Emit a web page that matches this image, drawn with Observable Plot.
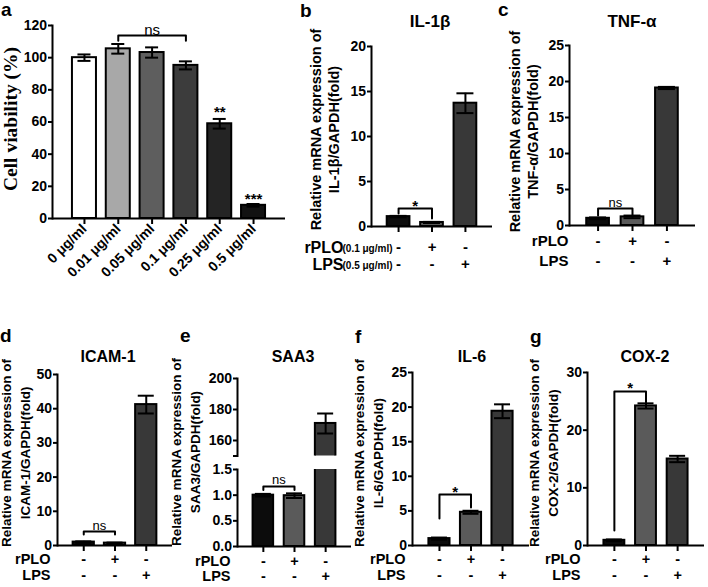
<!DOCTYPE html>
<html><head><meta charset="utf-8">
<script src="https://cdn.jsdelivr.net/npm/d3@7"></script>
<script src="https://cdn.jsdelivr.net/npm/@observablehq/plot@0.6"></script>
<style>
body{margin:0;background:#fff;}
#fig{position:relative;width:708px;height:587px;overflow:hidden;background:#fff;font-family:"Liberation Sans",Arial,sans-serif;color:#000;}
#fig svg{position:absolute;}
.lbl{position:absolute;font-weight:bold;white-space:nowrap;}
</style></head>
<body><div id="fig"></div>
<script>
// ---------------- DATA ----------------
const doseLabels = ["0 μg/ml","0.01 μg/ml","0.05 μg/ml","0.1 μg/ml","0.25 μg/ml","0.5 μg/ml"];
const viabilityMean = [100, 105.5, 103.2, 95.2, 58.9, 8.2];
const viabilityErr  = [2, 3, 3.2, 2.5, 3, 0.8];
const viabilityStars = ["", "", "", "", "**", "***"];
const viabilityStarY = [null, null, null, null, 66, 12];
const viabilityColors = ["#ffffff","#a8a8a8","#5e5e5e","#3c3c3c","#242424","#121212"];
const viabilityTicks = [0,20,40,60,80,100,120];

const groups = ["Control","rPLO","LPS"];
const rPLOSigns = ["-","+","-"];
const lpsSigns  = ["-","-","+"];
const rowNames = ["rPLO","LPS"];
const rowDoses = ["(0.1 μg/ml)","(0.5 μg/ml)"];
const groupColors = ["#0c0c0c","#5a5a5a","#383838"];

const il1bMean = [1.1, 0.45, 13.7], il1bErr = [0.08, 0.06, 1.1];
const tnfMean  = [1.0, 1.2, 19.1],  tnfErr  = [0.12, 0.18, 0.15];
const icamMean = [1.0, 0.7, 41.2],  icamErr = [0.2, 0.15, 2.6];
const saa3Mean = [1.0, 0.99, 171],  saa3Err = [0.025, 0.045, 6.5];
const il6Mean  = [1.0, 4.8, 19.4],  il6Err  = [0.15, 0.22, 1.0];
const cox2Mean = [0.9, 24.2, 15.0], cox2Err = [0.15, 0.45, 0.55];

const sigViability = [{from:"0.01 μg/ml", to:"0.1 μg/ml", top:113.8, left:110.5, right:110.5, label:"ns", labelY:117}];
const sigIL1b = [{from:"Control", to:"rPLO", top:2.0,  left:1.45, right:0.9,  label:"*",  labelY:2.3}];
const sigTNF  = [{from:"Control", to:"rPLO", top:2.36, left:1.4,  right:1.4,  label:"ns", labelY:3.1}];
const sigICAM = [{from:"Control", to:"rPLO", top:4.1,  left:3.2,  right:3.2,  label:"ns", labelY:5.7}];
const sigSAA3 = [{from:"Control", to:"rPLO", top:1.17, left:1.10, right:1.10, label:"ns", labelY:1.29}];
const sigIL6  = [{from:"Control", to:"rPLO", top:7.37, left:3.9,  right:5.5,  label:"*",  labelY:7.7}];
const sigCOX2 = [{from:"Control", to:"rPLO", top:26.7, left:2.6,  right:24.8, label:"*",  labelY:27.2}];

// ---------------- LAYOUT ----------------
const ML = 70, MR = 14, MT = 30, MB = 80;
const fig = document.getElementById("fig");
const FONT = "Liberation Sans, Arial, sans-serif";

function panel(o) {
  const F = o.frame, n = o.cats.length;
  const step = (F.x1 - F.x0) / (n - F.pi + 2 * F.po);
  const bw = step * (1 - F.pi);
  const cap = Math.max(0, (bw - o.capWidth) / 2);
  const clip = !!o.clip;
  const rows = o.cats.map((c, i) => ({
    cat: c, mean: o.mean[i], err: o.err[i], fill: o.colors[i],
    r1: o.row1 ? o.row1[i] : "", r2: o.row2 ? o.row2[i] : "",
    star: o.stars ? o.stars[i] : "", starY: o.starY ? o.starY[i] : null
  }));
  const marks = [
    Plot.barY(rows, {x: "cat", y1: 0, y2: "mean", fill: "fill", stroke: "#000", strokeWidth: 2, clip}),
    Plot.ruleX(rows, {x: "cat", y1: d => d.mean - d.err, y2: d => d.mean + d.err, stroke: "#000", strokeWidth: 2, clip}),
    Plot.tickY(rows, {x: "cat", y: d => d.mean + d.err, stroke: "#000", strokeWidth: 2, insetLeft: cap, insetRight: cap, clip}),
    Plot.tickY(rows, {x: "cat", y: d => d.mean - d.err, stroke: "#000", strokeWidth: 2, insetLeft: cap, insetRight: cap, clip}),
    Plot.frame({anchor: "left", stroke: "#000", strokeWidth: 2}),
    Plot.axisY({ticks: o.yTicks, tickFormat: o.yFormat, tickSize: 4, tickPadding: 1.5, stroke: "#000", strokeWidth: 2,
                fontSize: o.tickFont, fontWeight: "bold", fontFamily: FONT, label: null})
  ];
  if (o.xAxis) {
    marks.push(Plot.ruleY([o.yDomain[0]], {stroke: "#000", strokeWidth: 2}));
    if (o.xRotate) {
      marks.push(Plot.axisX({tickSize: 6, tickRotate: -45, tickPadding: 2, stroke: "#000", strokeWidth: 2,
                             fontSize: 14, fontWeight: "bold", fontFamily: FONT, label: null}));
    } else {
      marks.push(Plot.axisX({tickSize: 6, tickFormat: () => "", stroke: "#000", strokeWidth: 2, label: null}));
    }
  }
  if (o.row1) {
    const rs = o.rowFont;
    marks.push(Plot.text(rows, {x: "cat", text: "r1", frameAnchor: "bottom", dy: o.rowDy[0], fontSize: rs, fontWeight: "bold", fontFamily: FONT, lineAnchor: "middle"}));
    marks.push(Plot.text(rows, {x: "cat", text: "r2", frameAnchor: "bottom", dy: o.rowDy[1], fontSize: rs, fontWeight: "bold", fontFamily: FONT, lineAnchor: "middle"}));
    rowNames.forEach((name, k) => {
      marks.push(Plot.text([name], {frameAnchor: "bottom-left", textAnchor: "end", dx: o.rowNameDx, dy: o.rowDy[k],
        fontSize: o.rowNameFont || rs, fontWeight: "bold", fontFamily: FONT, lineAnchor: "middle"}));
      if (o.rowDoseDx !== undefined) {
        marks.push(Plot.text([rowDoses[k]], {frameAnchor: "bottom-left", textAnchor: "end", dx: o.rowDoseDx, dy: o.rowDy[k] + 1,
          fontSize: 10, fontWeight: "bold", fontFamily: FONT, lineAnchor: "middle"}));
      }
    });
  }
  if (o.yLabel) {
    marks.push(Plot.text([o.yLabel], {frameAnchor: "left", rotate: -90, dx: o.yLabelDx, dy: o.yLabelDy || 0,
      fontSize: o.yLabelFont, fontWeight: "bold", fontFamily: o.yLabelFamily || FONT, lineHeight: o.yLabelLH || 1.2,
      textAnchor: "middle", lineAnchor: "middle"}));
  }
  if (o.stars) {
    marks.push(Plot.text(rows.filter(d => d.star), {x: "cat", y: "starY", text: "star", fontSize: 15, fontWeight: "bold", fontFamily: FONT, lineAnchor: "middle"}));
  }
  if (o.sigs) {
    o.sigs.forEach((s) => {
      const pts = [
        {x: s.from, y: s.left}, {x: s.from, y: s.top}, {x: s.to, y: s.top}, {x: s.to, y: s.right}
      ];
      marks.push(Plot.line(pts, {x: "x", y: "y", stroke: "#000", strokeWidth: 2, clip}));
      const span = o.cats.indexOf(s.to) - o.cats.indexOf(s.from);
      const isStar = s.label.indexOf("*") >= 0;
      marks.push(Plot.text([s], {x: "from", y: "labelY", text: "label", dx: span * step / 2,
        fontSize: isStar ? 15 : o.nsFont, fontWeight: isStar ? "bold" : "normal", fontFamily: FONT, lineAnchor: "middle", clip}));
    });
  }
  const svg = Plot.plot({
    width: (F.x1 - F.x0) + ML + MR,
    height: (F.y1 - F.y0) + MT + MB,
    marginLeft: ML, marginRight: MR, marginTop: MT, marginBottom: MB,
    x: {type: "band", domain: o.cats, paddingInner: F.pi, paddingOuter: F.po, round: false, align: 0.5, axis: null},
    y: {domain: o.yDomain, axis: null},
    style: {background: "transparent", overflow: "visible", fontFamily: FONT, color: "#000"},
    marks
  });
  svg.style.position = "absolute";
  svg.style.left = (F.x0 - ML) + "px";
  svg.style.top = (F.y0 - MT) + "px";
  svg.style.maxWidth = "none";
  fig.appendChild(svg);
}

const fmtInt = d => String(d);

// Panel a
panel({
  frame: {x0: 52, x1: 285, y0: 25, y1: 218, pi: 0.29, po: 0.59},
  cats: doseLabels, mean: viabilityMean, err: viabilityErr, colors: viabilityColors,
  capWidth: 13, yDomain: [0, 120], yTicks: viabilityTicks, yFormat: fmtInt, tickFont: 14,
  xAxis: true, xRotate: true,
  stars: viabilityStars, starY: viabilityStarY,
  yLabel: "Cell viability (%)", yLabelDx: -43, yLabelDy: -3, yLabelFont: 19.5, yLabelFamily: "Liberation Serif, Times New Roman, serif",
  sigs: sigViability, nsFont: 15
});

const topRow = {capWidth: 17, tickFont: 14, xAxis: true, colors: groupColors, cats: groups,
  row1: rPLOSigns, row2: lpsSigns, rowFont: 15, yFormat: fmtInt, yLabelFont: 14.5, yLabelLH: 1.2, nsFont: 13};
const botRow = {capWidth: 16, tickFont: 14, xAxis: true, colors: groupColors, cats: groups,
  row1: rPLOSigns, row2: lpsSigns, rowFont: 14.5, rowDy: [14, 30], rowNameDx: -7, yFormat: fmtInt,
  yLabelFont: 13.5, yLabelLH: 1.4, nsFont: 13};

// Panel b
panel({...topRow,
  frame: {x0: 371, x1: 492, y0: 46, y1: 226, pi: 0.32, po: 0.47},
  mean: il1bMean, err: il1bErr, yDomain: [0, 20], yTicks: [0,5,10,15,20],
  rowDy: [21, 38], rowNameDx: -28, rowNameFont: 16, rowDoseDx: 21,
  yLabel: "Relative mRNA expression of\nIL-1β/GAPDH(fold)", yLabelDx: -47, yLabelDy: -7,
  sigs: sigIL1b
});

// Panel c
panel({...topRow,
  frame: {x0: 569, x1: 695, y0: 45, y1: 225, pi: 0.34, po: 0.5},
  mean: tnfMean, err: tnfErr, yDomain: [0, 25], yTicks: [0,5,10,15,20,25],
  rowDy: [16, 36], rowNameDx: -1,
  yLabel: "Relative mRNA expression of\nTNF-α/GAPDH(fold)", yLabelDx: -46, yLabelDy: -4,
  sigs: sigTNF
});

// Panel d
panel({...botRow,
  frame: {x0: 57, x1: 172, y0: 374, y1: 545, pi: 0.32, po: 0.5},
  mean: icamMean, err: icamErr, yDomain: [0, 50], yTicks: [0,10,20,30,40,50],
  yLabel: "Relative mRNA expression of\nICAM-1/GAPDH(fold)", yLabelDx: -43, yLabelDy: -7,
  sigs: sigICAM
});

// Panel e (broken axis): upper segment
panel({...botRow, xAxis: false, row1: null, clip: true,
  frame: {x0: 237, x1: 351, y0: 378, y1: 455.5, pi: 0.34, po: 0.5},
  mean: saa3Mean, err: saa3Err, yDomain: [150, 200], yTicks: [150,160,180,200],
  yFormat: d => d === 150 ? "" : String(d)
});
// Panel e: lower segment
panel({...botRow, clip: true, rowDy: [15, 30],
  frame: {x0: 237, x1: 351, y0: 469, y1: 546, pi: 0.34, po: 0.5},
  mean: saa3Mean, err: saa3Err, yDomain: [0, 1.5], yTicks: [0,0.5,1,1.5],
  yFormat: d3.format(".1f"),
  yLabel: "Relative mRNA expression of\nSAA3/GAPDH(fold)", yLabelDx: -53, yLabelDy: -56,
  sigs: sigSAA3
});

// Panel f
panel({...botRow,
  frame: {x0: 412, x1: 529, y0: 372, y1: 545, pi: 0.33, po: 0.52},
  mean: il6Mean, err: il6Err, yDomain: [0, 25], yTicks: [0,5,10,15,20,25],
  yLabel: "Relative mRNA expression of\nIL-6/GAPDH(fold)", yLabelDx: -45, yLabelDy: -6,
  sigs: sigIL6
});

// Panel g
panel({...botRow,
  frame: {x0: 587, x1: 704, y0: 372, y1: 545, pi: 0.34, po: 0.52},
  mean: cox2Mean, err: cox2Err, yDomain: [0, 30], yTicks: [0,10,20,30],
  yLabel: "Relative mRNA expression of\nCOX-2/GAPDH(fold)", yLabelDx: -45, yLabelDy: -6,
  sigs: sigCOX2
});

// Panel letters and titles (HTML text)
const letters = [["a",1,17],["b",300,17.5],["c",498,16.5],["d",0,343],["e",180,343],["f",355,344],["g",530,344]];
const titles = [["IL-1β",430,27,17],["TNF-α",632,27,17],["ICAM-1",108,363,16],["SAA3",293,363,16],["IL-6",472,363,16],["COX-2",645,363,16]];
letters.forEach(([t, x, base]) => {
  const fs = 19, lh = 12;
  const d = document.createElement("div");
  d.className = "lbl"; d.textContent = t;
  d.style.fontSize = fs + "px"; d.style.lineHeight = lh + "px";
  d.style.left = x + "px";
  d.style.top = (base - ((lh - 1.117 * fs) / 2 + 0.905 * fs)) + "px";
  fig.appendChild(d);
});
titles.forEach(([t, cx, base, fs]) => {
  const d = document.createElement("div");
  d.className = "lbl"; d.textContent = t;
  d.style.fontSize = fs + "px"; d.style.lineHeight = fs + "px";
  d.style.left = cx + "px"; d.style.top = (base - 0.8465 * fs) + "px";
  d.style.transform = "translateX(-50%)";
  fig.appendChild(d);
});
</script>
</body></html>
